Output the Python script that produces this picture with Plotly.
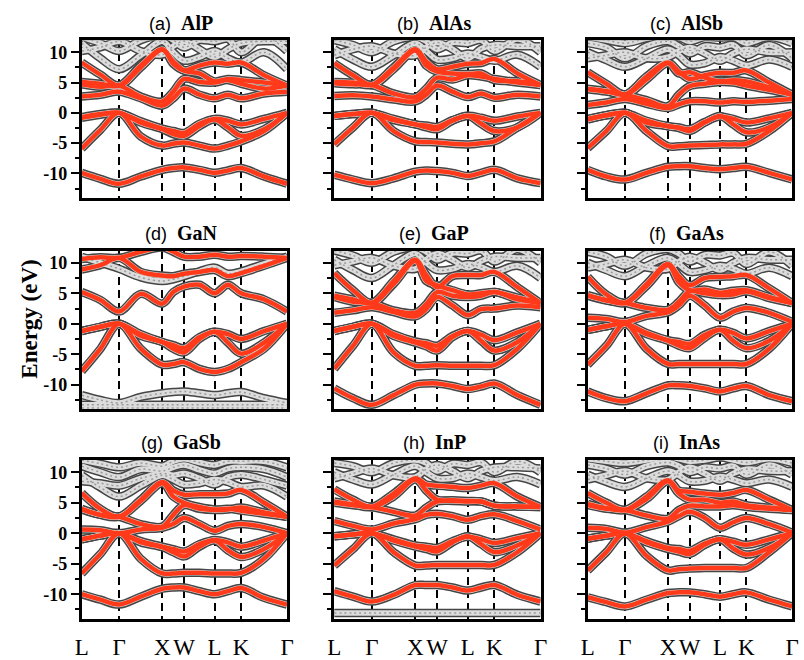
import plotly.graph_objects as go

# ---------------- data ----------------
k_labels = ["L", "Γ", "X", "W", "L", "K", "Γ"]
k_nodes = [0.0, 0.866, 1.866, 2.366, 3.073, 3.685, 4.746]
# sampling points along L-Γ-X-W-L-K-Γ (nodes and segment midpoints)
k_grid = [0.0, 0.433, 0.866, 1.366, 1.866, 2.116, 2.366, 2.720, 3.073, 3.379, 3.685, 4.215, 4.746]

materials = ["AlP", "AlAs", "AlSb", "GaN", "GaP", "GaAs", "GaSb", "InP", "InAs"]
letters = ["a", "b", "c", "d", "e", "f", "g", "h", "i"]

alp_red = [
    [-9.9, -10.9, -11.7, -10.5, -9.4, -9.1, -9.0, -9.4, -9.9, -9.5, -9.1, -10.5, -11.7],
    [-5.9, -2.8, 0.0, -3.9, -5.4, -5.1, -4.9, -5.4, -5.9, -5.4, -4.7, -3.0, 0.0],
    [-0.8, -0.3, 0.0, -1.6, -2.7, -3.5, -3.8, -2.2, -1.1, -2.4, -3.8, -2.7, 0.0],
    [-0.7, -0.2, 0.0, -1.4, -2.6, -3.0, -3.3, -1.8, -1.0, -1.3, -1.9, -1.0, 0.0],
    [2.7, 3.0, 3.5, 2.4, 1.2, 2.4, 4.0, 3.0, 2.4, 3.0, 2.4, 3.2, 3.5],
    [4.7, 4.3, 4.5, 2.7, 1.9, 3.5, 5.6, 5.1, 5.0, 5.4, 4.8, 4.0, 4.5],
    [5.1, 4.8, 4.5, 7.8, 10.5, 8.1, 7.0, 7.8, 8.3, 8.1, 8.3, 6.2, 4.5],
    [8.3, 6.3, 4.5, 7.5, 10.4, 8.5, 7.0, 6.5, 5.2, 5.6, 5.4, 5.0, 4.5],
]
alp_gray = [
    [11.5, 9.0, 7.2, 9.5, 11.8, 10.0, 8.6, 9.2, 10.2, 9.0, 8.3, 10.0, 7.2],
    [10.2, 10.8, 11.8, 10.2, 9.6, 11.0, 11.8, 10.5, 9.2, 10.5, 11.5, 11.8, 11.8],
    [12.5, 11.5, 10.2, 12.0, 12.8, 12.0, 10.8, 12.0, 11.8, 12.2, 10.0, 12.5, 10.2],
]

alas_red = [
    [-10.2, -11.0, -11.6, -10.8, -9.7, -9.5, -9.6, -9.9, -10.4, -9.9, -9.4, -10.8, -11.6],
    [-5.2, -2.4, 0.0, -3.0, -4.7, -4.8, -4.9, -5.1, -5.2, -5.0, -4.7, -2.4, 0.0],
    [-0.5, -0.2, 0.0, -1.2, -1.9, -2.4, -2.7, -1.3, -0.5, -1.8, -3.0, -2.4, 0.0],
    [-0.5, -0.2, 0.0, -1.0, -1.9, -2.1, -2.3, -1.2, -0.5, -0.8, -1.3, -0.6, 0.0],
    [2.8, 2.9, 2.7, 2.2, 1.9, 3.0, 4.5, 3.5, 2.6, 3.2, 2.5, 3.0, 2.7],
    [4.9, 4.7, 4.6, 3.2, 2.6, 4.0, 5.8, 5.5, 6.2, 6.0, 5.6, 5.0, 4.6],
    [5.1, 5.0, 4.6, 7.5, 10.5, 8.5, 7.2, 7.6, 8.1, 8.2, 8.9, 6.5, 4.6],
    [8.2, 6.2, 4.6, 7.2, 10.3, 7.8, 6.8, 6.5, 6.4, 6.5, 5.4, 5.2, 4.6],
]
alas_gray = [
    [10.5, 8.8, 7.6, 9.5, 11.5, 10.2, 8.8, 9.0, 9.8, 9.2, 8.6, 9.6, 7.6],
    [9.5, 10.5, 11.0, 9.8, 9.5, 10.8, 11.6, 10.5, 9.0, 10.6, 11.2, 11.0, 11.0],
    [12.0, 11.2, 10.0, 11.8, 12.5, 11.8, 10.5, 11.6, 11.5, 12.0, 10.2, 12.2, 10.0],
]

alsb_red = [
    [-9.4, -10.5, -11.0, -9.9, -8.9, -8.8, -8.8, -9.1, -9.3, -9.1, -8.9, -9.9, -11.0],
    [-5.8, -3.0, 0.0, -3.0, -5.5, -5.5, -5.4, -5.3, -5.2, -5.2, -5.1, -3.0, 0.0],
    [-1.1, -0.4, 0.0, -1.6, -2.2, -2.5, -3.0, -1.6, -0.5, -1.9, -3.2, -2.4, 0.0],
    [-1.0, -0.4, 0.0, -1.3, -2.2, -2.4, -2.7, -1.5, -0.6, -1.0, -1.6, -0.9, 0.0],
    [1.3, 1.7, 2.3, 1.5, 0.8, 1.4, 1.9, 1.9, 1.7, 1.9, 1.8, 2.0, 2.3],
    [3.9, 3.5, 3.0, 2.1, 1.1, 3.0, 4.4, 4.8, 5.1, 5.0, 4.5, 3.8, 3.0],
    [4.0, 3.6, 3.0, 6.0, 8.3, 6.8, 5.6, 6.2, 6.6, 6.6, 7.0, 5.0, 3.0],
    [6.7, 4.8, 3.0, 5.5, 8.2, 6.5, 6.7, 5.8, 5.2, 5.4, 5.2, 4.2, 3.0],
]
alsb_gray = [
    [10.0, 8.7, 7.6, 9.0, 10.5, 9.5, 8.0, 8.2, 9.2, 8.6, 7.8, 8.8, 7.6],
    [9.0, 9.5, 10.0, 9.0, 9.2, 10.2, 10.8, 9.8, 8.6, 9.8, 10.5, 10.0, 10.0],
    [11.5, 10.8, 9.0, 11.0, 11.8, 11.0, 9.8, 11.0, 10.8, 11.2, 9.5, 11.2, 9.0],
    [12.5, 12.0, 11.5, 12.3, 12.8, 12.5, 11.8, 12.5, 12.4, 12.5, 11.5, 12.5, 11.5],
]

gan_red = [
    [-7.8, -4.1, 0.0, -4.1, -6.7, -6.6, -6.3, -7.4, -7.9, -7.4, -6.3, -4.1, 0.0],
    [-1.2, -0.5, 0.0, -2.0, -3.0, -4.1, -4.7, -2.5, -1.3, -3.1, -4.9, -3.1, 0.0],
    [-1.2, -0.5, 0.0, -1.7, -3.0, -3.5, -4.0, -2.2, -1.3, -1.7, -2.5, -1.2, 0.0],
    [5.2, 3.9, 2.0, 4.9, 3.3, 5.2, 6.1, 6.4, 5.0, 6.4, 5.0, 4.0, 2.0],
    [8.9, 9.6, 10.8, 8.5, 7.9, 7.8, 8.2, 8.5, 8.8, 7.8, 8.3, 9.5, 10.8],
    [10.6, 10.9, 10.8, 11.8, 12.5, 11.8, 11.0, 11.0, 11.3, 11.0, 11.1, 11.0, 10.8],
]
gan_gray = [
    [-11.7, -12.5, -13.0, -12.0, -11.4, -11.2, -11.1, -11.4, -11.7, -11.4, -11.2, -12.2, -13.0],
    [-13.3, -13.3, -13.3, -13.3, -13.3, -13.3, -13.3, -13.3, -13.3, -13.3, -13.3, -13.3, -13.3],
    [-13.8, -13.8, -13.8, -13.8, -13.8, -13.8, -13.8, -13.8, -13.8, -13.8, -13.8, -13.8, -13.8],
    [11.0, 10.0, 9.0, 7.6, 7.0, 7.3, 7.8, 8.6, 9.2, 8.2, 8.6, 9.8, 11.0],
]

gap_red = [
    [-10.6, -12.2, -13.3, -11.7, -10.0, -9.8, -9.8, -10.2, -10.7, -10.3, -9.8, -11.7, -13.3],
    [-7.4, -3.6, 0.0, -4.7, -6.9, -6.9, -6.8, -6.9, -6.9, -6.9, -6.8, -4.1, 0.0],
    [-1.2, -0.5, 0.0, -2.0, -3.1, -3.7, -4.4, -2.2, -1.2, -2.8, -4.4, -3.0, 0.0],
    [-1.2, -0.5, 0.0, -1.7, -2.9, -3.2, -3.6, -2.0, -1.2, -1.8, -2.7, -1.4, 0.0],
    [1.8, 2.2, 2.7, 1.9, 1.2, 2.4, 4.4, 3.0, 1.4, 2.4, 2.5, 3.0, 2.7],
    [4.4, 3.6, 3.4, 2.2, 1.8, 3.2, 5.2, 4.6, 4.4, 4.6, 5.2, 4.0, 3.4],
    [4.6, 4.0, 3.4, 7.0, 10.5, 8.0, 6.0, 7.8, 8.0, 8.0, 8.5, 6.0, 3.4],
    [8.3, 5.5, 3.4, 6.5, 10.3, 7.0, 6.3, 5.5, 4.8, 5.0, 5.2, 4.3, 3.4],
]
gap_gray = [
    [10.5, 8.8, 7.5, 9.6, 11.5, 10.0, 8.8, 9.0, 9.8, 9.3, 8.5, 9.5, 7.5],
    [9.6, 10.2, 10.8, 9.5, 9.0, 10.5, 11.5, 10.5, 9.2, 10.3, 11.0, 10.8, 10.8],
    [12.0, 11.2, 10.0, 11.8, 12.5, 11.8, 10.5, 11.6, 11.5, 12.0, 10.2, 12.2, 10.0],
]

gaas_red = [
    [-11.1, -12.2, -12.7, -11.4, -10.1, -10.1, -10.2, -10.6, -11.1, -10.6, -10.2, -11.7, -12.7],
    [-6.7, -3.6, 0.0, -4.1, -6.6, -6.6, -6.6, -6.6, -6.6, -6.6, -6.6, -4.1, 0.0],
    [-1.0, -0.4, 0.0, -1.7, -2.8, -3.6, -4.0, -2.3, -1.0, -2.8, -4.0, -2.8, 0.0],
    [-1.0, -0.4, 0.0, -1.5, -2.7, -3.0, -3.3, -1.8, -1.0, -1.5, -2.4, -1.2, 0.0],
    [1.0, 0.8, 0.3, 1.3, 1.9, 3.0, 4.6, 3.0, 1.0, 2.0, 2.6, 1.8, 0.3],
    [4.6, 3.8, 3.4, 2.6, 2.3, 3.6, 5.3, 5.0, 4.7, 4.8, 5.3, 4.2, 3.4],
    [4.7, 3.9, 3.4, 6.5, 9.8, 7.8, 6.3, 7.5, 7.7, 7.8, 8.0, 5.8, 3.4],
    [7.7, 4.8, 3.4, 6.2, 9.6, 6.8, 5.5, 5.6, 5.1, 5.4, 5.5, 4.4, 3.4],
]
gaas_gray = [
    [10.0, 8.8, 7.8, 9.5, 10.8, 9.8, 8.5, 8.8, 9.5, 9.0, 8.2, 9.2, 7.8],
    [9.2, 9.8, 10.5, 9.2, 9.0, 10.2, 11.0, 10.0, 8.8, 10.0, 10.8, 10.5, 10.5],
    [11.8, 11.0, 9.5, 11.5, 12.2, 11.5, 10.2, 11.3, 11.2, 11.6, 9.8, 11.8, 9.5],
]

gasb_red = [
    [-10.0, -10.9, -11.7, -10.4, -9.1, -8.9, -8.9, -9.5, -10.0, -9.5, -9.0, -10.6, -11.7],
    [-6.6, -3.4, 0.0, -4.2, -6.6, -6.6, -6.5, -6.5, -6.6, -6.6, -6.5, -4.2, 0.0],
    [-1.0, -0.4, 0.0, -1.5, -2.3, -3.1, -3.8, -2.2, -1.2, -2.8, -3.9, -2.6, 0.0],
    [-1.0, -0.4, 0.0, -1.3, -2.2, -2.6, -3.0, -1.8, -1.1, -1.5, -2.2, -1.2, 0.0],
    [0.6, 0.5, 0.0, 0.6, 0.9, 1.5, 2.5, 1.5, 0.4, 1.2, 1.5, 1.0, 0.0],
    [3.9, 3.0, 2.7, 1.5, 1.1, 3.0, 4.6, 4.0, 3.8, 3.9, 4.2, 3.4, 2.7],
    [4.0, 3.0, 2.7, 5.5, 8.4, 7.0, 6.3, 6.4, 6.4, 6.5, 7.1, 5.0, 2.7],
    [6.6, 4.0, 2.7, 5.3, 8.2, 6.0, 5.0, 4.3, 3.9, 4.0, 3.7, 3.2, 2.7],
]
gasb_gray = [
    [9.5, 7.5, 6.0, 7.8, 9.5, 8.8, 8.0, 8.2, 8.8, 8.4, 7.6, 7.8, 6.0],
    [8.5, 8.2, 7.8, 9.0, 9.8, 9.5, 9.8, 9.0, 8.0, 9.2, 9.6, 8.8, 7.8],
    [11.0, 10.0, 9.2, 10.5, 10.2, 10.8, 11.2, 10.4, 9.8, 10.6, 10.8, 10.5, 9.2],
    [12.0, 11.4, 10.8, 11.5, 11.0, 11.8, 12.2, 11.6, 11.2, 11.8, 11.8, 11.8, 10.8],
]

inp_red = [
    [-9.5, -10.4, -11.2, -10.1, -8.5, -8.5, -8.5, -8.9, -9.4, -8.9, -8.5, -10.1, -11.2],
    [-5.3, -2.6, 0.0, -3.1, -5.3, -5.3, -5.2, -5.2, -5.2, -5.2, -5.2, -3.1, 0.0],
    [-0.5, -0.2, 0.0, -1.2, -2.2, -2.6, -3.0, -1.5, -0.5, -1.8, -3.1, -2.0, 0.0],
    [-0.5, -0.2, 0.0, -1.0, -2.0, -2.2, -2.4, -1.3, -0.6, -1.0, -1.6, -0.8, 0.0],
    [2.0, 1.2, 0.6, 1.6, 2.3, 3.0, 3.2, 2.8, 2.2, 2.8, 3.1, 2.0, 0.6],
    [5.0, 4.6, 4.3, 3.5, 2.9, 4.2, 5.2, 5.3, 5.2, 5.2, 4.5, 4.4, 4.3],
    [5.2, 4.7, 4.3, 6.5, 9.0, 8.0, 7.8, 7.6, 7.4, 7.8, 8.2, 6.0, 4.3],
    [7.2, 5.5, 4.3, 6.0, 8.8, 7.0, 5.5, 5.4, 5.3, 5.2, 4.5, 4.4, 4.3],
]
inp_gray = [
    [10.0, 8.8, 8.0, 9.6, 11.0, 10.0, 9.0, 9.0, 9.8, 9.2, 8.6, 9.2, 8.0],
    [9.0, 9.8, 10.6, 9.5, 9.2, 10.5, 11.2, 10.2, 9.0, 10.2, 10.8, 10.8, 10.6],
    [11.5, 11.0, 10.0, 11.5, 12.0, 11.5, 10.2, 11.4, 11.2, 11.6, 10.0, 11.8, 10.0],
    [-13.1, -13.1, -13.1, -13.1, -13.1, -13.1, -13.1, -13.1, -13.1, -13.1, -13.1, -13.1, -13.1],
]

inas_red = [
    [-10.5, -11.3, -12.0, -10.9, -9.8, -9.7, -9.7, -10.0, -10.4, -10.0, -9.7, -10.9, -12.0],
    [-6.1, -3.1, 0.0, -3.7, -6.1, -5.9, -5.8, -5.7, -5.7, -5.7, -5.7, -3.1, 0.0],
    [-0.9, -0.4, 0.0, -1.5, -2.6, -3.0, -3.4, -1.9, -1.0, -2.5, -3.5, -2.4, 0.0],
    [-0.9, -0.4, 0.0, -1.3, -2.4, -2.6, -2.9, -1.7, -1.0, -1.4, -1.9, -1.0, 0.0],
    [0.9, 0.7, 0.1, 1.0, 1.9, 2.8, 3.5, 2.5, 0.9, 1.8, 2.5, 1.5, 0.1],
    [4.6, 4.0, 3.8, 2.9, 2.4, 3.8, 4.5, 4.4, 4.4, 4.6, 4.3, 4.0, 3.8],
    [4.8, 4.1, 3.8, 6.0, 8.7, 7.0, 6.8, 6.5, 6.3, 6.6, 7.1, 5.5, 3.8],
    [6.6, 5.0, 3.8, 5.6, 8.5, 6.5, 5.5, 5.5, 5.0, 5.2, 4.6, 4.2, 3.8],
]
inas_gray = [
    [9.6, 8.4, 7.6, 9.0, 10.2, 9.5, 8.5, 8.6, 9.3, 8.8, 8.2, 8.8, 7.6],
    [8.8, 9.5, 10.2, 9.0, 8.8, 10.0, 10.8, 9.8, 8.6, 9.8, 10.5, 10.2, 10.2],
    [11.2, 10.6, 9.6, 11.0, 11.6, 11.0, 10.0, 10.8, 10.6, 11.0, 9.6, 11.2, 9.6],
    [12.2, 11.8, 11.5, 12.0, 12.5, 12.2, 11.8, 12.0, 12.4, 12.0, 11.6, 12.2, 11.5],
]

red_sets = [alp_red, alas_red, alsb_red, gan_red, gap_red, gaas_red, gasb_red, inp_red, inas_red]
gray_sets = [alp_gray, alas_gray, alsb_gray, gan_gray, gap_gray, gaas_gray, gasb_gray, inp_gray, inas_gray]

y_major = [-10, -5, 0, 5, 10]
y_minor = [-12.5, -7.5, -2.5, 2.5, 7.5]

# ---------------- layout geometry (pixels) ----------------
W, H = 804, 660
col_px = [(76, 285), (333, 543), (591, 799)]
row_px = [(41, 202), (256, 418), (470, 632)]

RED = "#ff3a1a"
GRAY_EDGE = "#454545"
GRAY_FILL = "#dcdcdc"
GRAY_DOT = "#9a9a9a"


def join(bands):
    xs, ys = [], []
    for b in bands:
        xs += k_grid + [None]
        ys += list(b) + [None]
    return xs, ys


fig = go.Figure()
annotations = []
for i, (mat, let) in enumerate(zip(materials, letters)):
    r, c = divmod(i, 3)
    ax = "" if i == 0 else str(i + 1)
    xref, yref = "x" + ax, "y" + ax
    xs_g, ys_g = join(gray_sets[i] + red_sets[i])
    xs_r, ys_r = join(red_sets[i])
    fig.add_trace(go.Scatter(x=xs_g, y=ys_g, mode="lines", xaxis=xref, yaxis=yref,
                             line=dict(color=GRAY_EDGE, width=8.5, shape="spline"),
                             hoverinfo="skip", showlegend=False))
    fig.add_trace(go.Scatter(x=xs_g, y=ys_g, mode="lines", xaxis=xref, yaxis=yref,
                             line=dict(color=GRAY_FILL, width=5.5, shape="spline"),
                             hoverinfo="skip", showlegend=False))
    fig.add_trace(go.Scatter(x=xs_g, y=ys_g, mode="lines", xaxis=xref, yaxis=yref,
                             line=dict(color=GRAY_DOT, width=1.5, shape="spline", dash="2px,3px"),
                             hoverinfo="skip", showlegend=False))
    fig.add_trace(go.Scatter(x=xs_r, y=ys_r, mode="lines", xaxis=xref, yaxis=yref,
                             line=dict(color=RED, width=4.5, shape="spline"),
                             hoverinfo="skip", showlegend=False))

    x0, x1 = col_px[c]
    y0, y1 = row_px[r]
    bottom = (r == 2)
    fig.layout["xaxis" + ax] = dict(
        domain=[x0 / W, x1 / W], anchor=yref, range=[k_nodes[0], k_nodes[-1]],
        tickmode="array", tickvals=k_nodes, ticktext=k_labels, tickangle=0,
        showticklabels=bottom, ticks="outside" if bottom else "", ticklen=6,
        tickcolor="rgba(0,0,0,0)",
        tickfont=dict(family="Liberation Serif", size=23, color="black"),
        showgrid=True, gridcolor="black", gridwidth=2.2, griddash="8px,5px",
        showline=True, linecolor="black", linewidth=2.5, mirror=True, zeroline=False,
    )
    fig.layout["yaxis" + ax] = dict(
        domain=[1 - y1 / H, 1 - y0 / H], anchor=xref, range=[-14, 12],
        tickmode="array", tickvals=y_major, ticktext=[str(v) for v in y_major],
        ticks="outside", ticklen=8, tickwidth=2, tickcolor="black",
        minor=dict(tickmode="array", tickvals=y_minor, ticks="outside", ticklen=4,
                   tickwidth=2, tickcolor="black", showgrid=False),
        showticklabels=(c == 0),
        tickfont=dict(family="Liberation Serif", size=18, color="black", weight="bold"),
        showgrid=False, showline=True, linecolor="black", linewidth=2.5, mirror=True,
        zeroline=False,
    )
    annotations.append(dict(
        x=(x0 + x1) / 2 / W - 3 / W, y=1 - (y0 - 18) / H, xref="paper", yref="paper",
        xanchor="center", yanchor="middle", showarrow=False,
        text="(" + let + ")\u00a0\u00a0<span style=\"font-family:'Liberation Serif';font-size:20px\"><b>"
             + mat + "</b></span>",
        font=dict(family="Liberation Sans", size=18, color="black"),
    ))

annotations.append(dict(
    x=22 / W, y=1 - 326 / H, xref="paper", yref="paper", xanchor="center", yanchor="middle",
    showarrow=False, textangle=-90, text="<b>Energy (eV)</b>",
    font=dict(family="Liberation Serif", size=23, color="black"),
))

fig.update_layout(
    width=W, height=H, margin=dict(l=0, r=0, t=0, b=0),
    paper_bgcolor="white", plot_bgcolor="white",
    annotations=annotations, showlegend=False,
)

fig.write_html("out.html")
